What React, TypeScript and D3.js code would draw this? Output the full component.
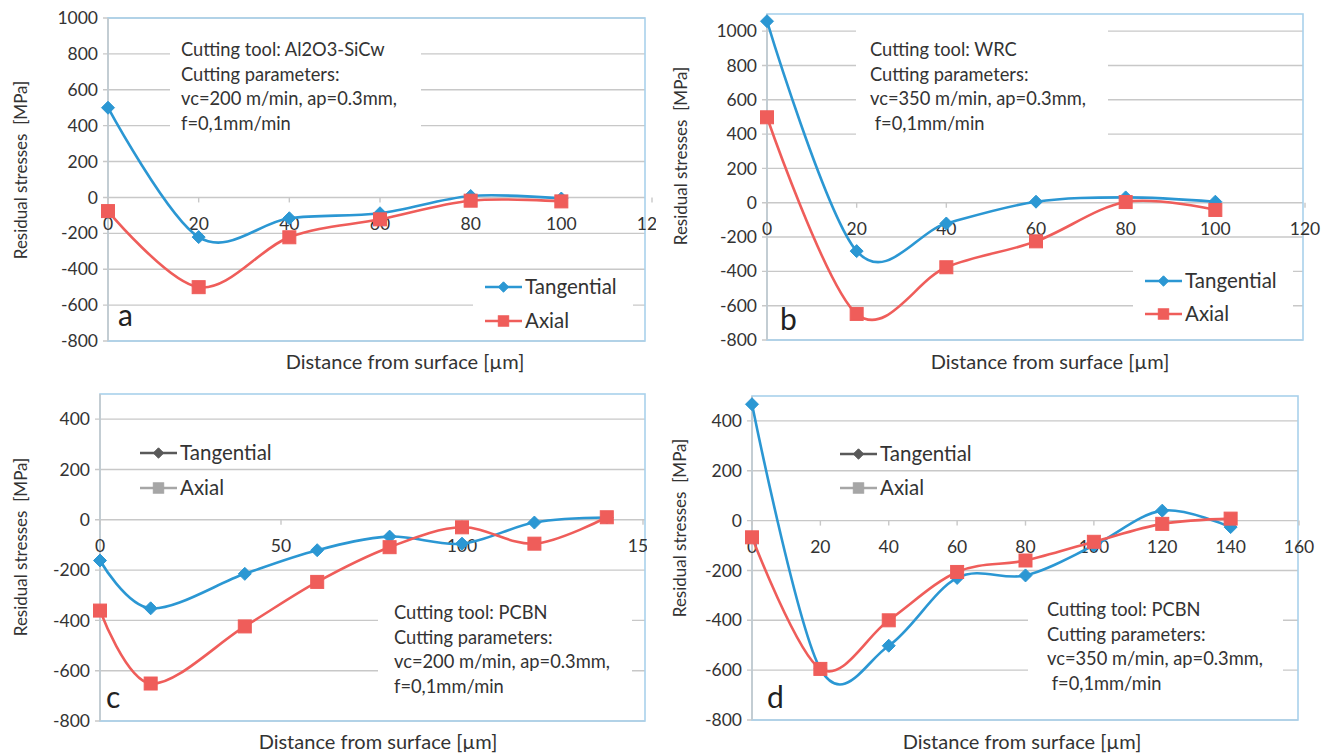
import React from "react";
import * as d3 from "d3";

// Residual stress profiles: tangential and axial components vs depth
const depthA = [0, 20, 40, 60, 80, 100];
const tangA = [500, -221, -116, -88, 8, -6];
const axialA = [-76, -500, -222, -122, -18, -22];

const depthB = [0, 20, 40, 60, 80, 100];
const tangB = [1058, -282, -121, 6, 31, 6];
const axialB = [498, -648, -376, -225, 4, -42];

const depthC = [0, 14, 40, 60, 80, 100, 120, 140];
const tangC = [-162, -352, -215, -121, -67, -95, -11, 9];
const axialC = [-361, -651, -424, -247, -109, -30, -95, 10];

const depthD = [0, 20, 40, 60, 80, 100, 120, 140];
const tangD = [467, -595, -502, -230, -220, -100, 40, -26];
const axialD = [-67, -595, -400, -206, -160, -85, -13, 8];

const seriesNames = ["Tangential", "Axial"];
const yTitle = "Residual stresses  [MPa]";
const xTitle = "Distance from surface [\u00b5m]";

const notesA = ["Cutting tool: Al2O3-SiCw", "Cutting parameters:", "vc=200 m/min, ap=0.3mm,", "f=0,1mm/min"];
const notesB = ["Cutting tool: WRC", "Cutting parameters:", "vc=350 m/min, ap=0.3mm,", " f=0,1mm/min"];
const notesC = ["Cutting tool: PCBN", "Cutting parameters:", "vc=200 m/min, ap=0.3mm,", "f=0,1mm/min"];
const notesD = ["Cutting tool: PCBN", "Cutting parameters:", "vc=350 m/min, ap=0.3mm,", " f=0,1mm/min"];

const FONT = "Lato, 'Open Sans', sans-serif";
const BLUE = "#2b97d3";
const RED = "#ef5d5a";
const FRAME = "#a9d1ec";
const GRID = "#c8c8c8";
const TEXT = "#333333";

type Cfg = {
  id: string;
  letter: string;
  depth: number[];
  tang: number[];
  axial: number[];
  xMax: number;
  xStep: number;
  yMin: number;
  yMax: number;
  yTickMax: number;
  left: number;
  xEnd: number;
  frameRight: number;
  labelClip: number | null;
  top: number;
  bottom: number;
  notes: string[];
  noteX: number;
  noteY: number;
  noteBox: [number, number, number, number];
  legX: number;
  legY: number;
  legGap: number;
  legFill: boolean;
  legMono: boolean;
  letterX: number;
  letterY: number;
  yTitleX: number;
  yTitleY: number;
  xTitleX: number;
  xTitleY: number;
};

const panels: Cfg[] = [
  {
    id: "a", letter: "a", depth: depthA, tang: tangA, axial: axialA,
    xMax: 120, xStep: 20, yMin: -800, yMax: 1000, yTickMax: 1000,
    left: 108, xEnd: 652, frameRight: 645, labelClip: 656, top: 18, bottom: 341,
    notes: notesA, noteX: 181, noteY: 50, noteBox: [170, 30, 421, 140],
    legX: 485, legY: 287, legGap: 34, legFill: true, legMono: false,
    letterX: 118, letterY: 326, yTitleX: 21, yTitleY: 170, xTitleX: 405, xTitleY: 362,
  },
  {
    id: "b", letter: "b", depth: depthB, tang: tangB, axial: axialB,
    xMax: 120, xStep: 20, yMin: -800, yMax: 1100, yTickMax: 1000,
    left: 767, xEnd: 1305, frameRight: 1303, labelClip: null, top: 14, bottom: 340,
    notes: notesB, noteX: 870, noteY: 50, noteBox: [856, 24, 1108, 150],
    legX: 1145, legY: 281, legGap: 33, legFill: true, legMono: false,
    letterX: 780, letterY: 330, yTitleX: 681, yTitleY: 156, xTitleX: 1050, xTitleY: 362,
  },
  {
    id: "c", letter: "c", depth: depthC, tang: tangC, axial: axialC,
    xMax: 150, xStep: 50, yMin: -800, yMax: 500, yTickMax: 400,
    left: 100, xEnd: 643, frameRight: 645, labelClip: 647, top: 394, bottom: 721,
    notes: notesC, noteX: 394, noteY: 613, noteBox: [378, 596, 632, 702],
    legX: 140, legY: 453, legGap: 35, legFill: false, legMono: true,
    letterX: 106, letterY: 708, yTitleX: 21, yTitleY: 547, xTitleX: 378, xTitleY: 742,
  },
  {
    id: "d", letter: "d", depth: depthD, tang: tangD, axial: axialD,
    xMax: 160, xStep: 20, yMin: -800, yMax: 500, yTickMax: 400,
    left: 752, xEnd: 1299, frameRight: 1298, labelClip: null, top: 396, bottom: 720,
    notes: notesD, noteX: 1047, noteY: 610, noteBox: [1028, 594, 1283, 700],
    legX: 840, legY: 454, legGap: 34, legFill: false, legMono: true,
    letterX: 767, letterY: 708, yTitleX: 680, yTitleY: 528, xTitleX: 1022, xTitleY: 742,
  },
];

function diamondPath(cx: number, cy: number, r: number) {
  return `M${cx},${cy - r}L${cx + r},${cy}L${cx},${cy + r}L${cx - r},${cy}Z`;
}

function Marker({ kind, cx, cy, color, scale = 1 }: { kind: string; cx: number; cy: number; color: string; scale?: number }) {
  if (kind === "diamond") {
    const r = 6.5 * scale;
    return <path d={diamondPath(cx, cy, r)} fill={color} stroke={color} strokeWidth={1} />;
  }
  const s = 13 * scale;
  return <rect x={cx - s / 2} y={cy - s / 2} width={s} height={s} fill={color} stroke={color} strokeWidth={1} />;
}

function Panel({ cfg }: { cfg: Cfg }) {
  const x = d3.scaleLinear().domain([0, cfg.xMax]).range([cfg.left, cfg.xEnd]);
  const y = d3.scaleLinear().domain([cfg.yMin, cfg.yMax]).range([cfg.bottom, cfg.top]);
  const yTicks = d3.range(cfg.yMin, cfg.yTickMax + 1, 200);
  const xTicks = d3.range(0, cfg.xMax + 1, cfg.xStep);
  const y0 = y(0);

  const makeLine = (vals: number[]) =>
    d3
      .line<number>()
      .x((_, i) => x(cfg.depth[i]))
      .y((d) => y(d))
      .curve(d3.curveCardinal.tension(0))(vals) || "";

  const series = [
    { name: seriesNames[0], vals: cfg.tang, color: BLUE, kind: "diamond" },
    { name: seriesNames[1], vals: cfg.axial, color: RED, kind: "square" },
  ];
  const legendColors = cfg.legMono ? ["#595959", "#a6a6a6"] : [BLUE, RED];
  const clipId = `clip-${cfg.id}`;
  const [bx0, by0, bx1, by1] = cfg.noteBox;

  return (
    <g>
      {cfg.labelClip !== null && (
        <defs>
          <clipPath id={clipId}>
            <rect x={cfg.left - 40} y={cfg.top - 20} width={cfg.labelClip - (cfg.left - 40)} height={cfg.bottom - cfg.top + 60} />
          </clipPath>
        </defs>
      )}

      {/* horizontal gridlines with outward tick stubs */}
      {yTicks.map((t) => (
        <line key={`g${t}`} x1={cfg.left - 5} x2={cfg.frameRight} y1={y(t)} y2={y(t)} stroke={GRID} strokeWidth={1.4} />
      ))}

      {/* plot frame */}
      <rect x={cfg.left} y={cfg.top} width={cfg.frameRight - cfg.left} height={cfg.bottom - cfg.top} fill="none" stroke={FRAME} strokeWidth={1.6} />
      {/* value axis */}
      <line x1={cfg.left} x2={cfg.left} y1={cfg.top} y2={cfg.bottom} stroke={GRID} strokeWidth={1.4} />

      {/* category axis ticks at zero */}
      {xTicks.map((t) => (
        <line key={`xt${t}`} x1={x(t)} x2={x(t)} y1={y0} y2={y0 + 5} stroke={GRID} strokeWidth={1.4} />
      ))}

      {/* y tick labels */}
      {yTicks.map((t) => (
        <text key={`yl${t}`} x={cfg.left - 10} y={y(t)} dy="0.35em" textAnchor="end" fontSize={17.5} fill={TEXT} fontFamily={FONT}>
          {t}
        </text>
      ))}

      {/* x tick labels, clipped at the chart edge where needed */}
      <g clipPath={cfg.labelClip !== null ? `url(#${clipId})` : undefined}>
        {xTicks.map((t) => (
          <text key={`xl${t}`} x={x(t)} y={y0 + 26} dy="0.35em" textAnchor="middle" fontSize={17.5} fill={TEXT} fontFamily={FONT}>
            {t}
          </text>
        ))}
      </g>

      {/* note box */}
      <rect x={bx0} y={by0} width={bx1 - bx0} height={by1 - by0} fill="#ffffff" />
      {cfg.notes.map((s, i) => (
        <text key={`n${i}`} x={cfg.noteX} y={cfg.noteY + i * 24.5} dy="0.35em" fontSize={18.3} fill={TEXT} fontFamily={FONT} style={{ whiteSpace: "pre" }}>
          {s}
        </text>
      ))}

      {/* legend */}
      {cfg.legFill && (
        <rect x={cfg.legX - 12} y={cfg.legY - 17} width={160} height={cfg.legGap + 34} fill="#ffffff" />
      )}
      {series.map((s, i) => {
        const ly = cfg.legY + i * cfg.legGap;
        const c = legendColors[i];
        return (
          <g key={`lg${i}`}>
            <line x1={cfg.legX} x2={cfg.legX + 37} y1={ly} y2={ly} stroke={c} strokeWidth={2.5} />
            <Marker kind={s.kind} cx={cfg.legX + 18.5} cy={ly} color={c} scale={0.8} />
            <text x={cfg.legX + 40} y={ly} dy="0.35em" fontSize={20.5} fill={TEXT} fontFamily={FONT}>
              {s.name}
            </text>
          </g>
        );
      })}

      {/* series */}
      {series.map((s, i) => (
        <g key={`s${i}`}>
          <path d={makeLine(s.vals)} fill="none" stroke={s.color} strokeWidth={2.6} strokeLinejoin="round" />
          {s.vals.map((v, j) => (
            <Marker key={j} kind={s.kind} cx={x(cfg.depth[j])} cy={y(v)} color={s.color} />
          ))}
        </g>
      ))}

      {/* panel letter */}
      <text x={cfg.letterX} y={cfg.letterY} fontSize={30} fill="#222" fontFamily={FONT}>
        {cfg.letter}
      </text>

      {/* axis titles */}
      <text
        transform={`translate(${cfg.yTitleX},${cfg.yTitleY}) rotate(-90)`}
        textAnchor="middle"
        dy="0.35em"
        fontSize={17}
        fill={TEXT}
        fontFamily={FONT}
        style={{ whiteSpace: "pre" }}
      >
        {yTitle}
      </text>
      <text x={cfg.xTitleX} y={cfg.xTitleY} dy="0.35em" textAnchor="middle" fontSize={20} fill={TEXT} fontFamily={FONT}>
        {xTitle}
      </text>
    </g>
  );
}

export default function App() {
  return (
    <svg
      width={1338}
      height={754}
      viewBox="0 0 1338 754"
      style={{ position: "absolute", left: 0, top: 0, background: "#ffffff" }}
    >
      <rect x={0} y={0} width={1338} height={754} fill="#ffffff" />
      {panels.map((p) => (
        <Panel key={p.id} cfg={p} />
      ))}
    </svg>
  );
}
